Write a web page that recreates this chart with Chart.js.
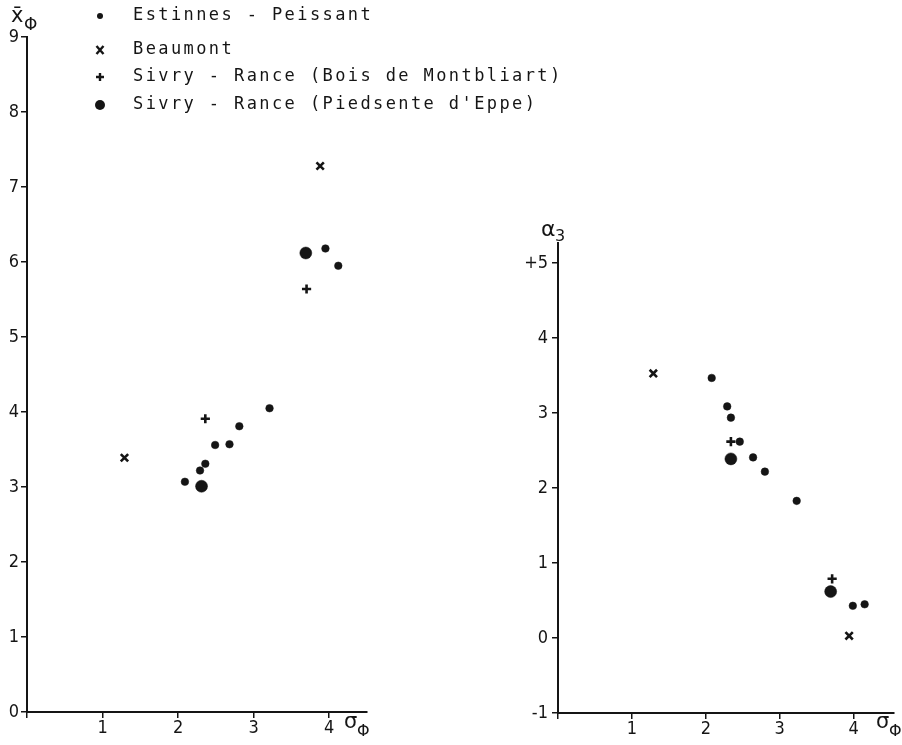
<!DOCTYPE html>
<html>
<head>
<meta charset="utf-8">
<script src="https://cdn.jsdelivr.net/npm/chart.js@4/dist/chart.umd.min.js"></script>
<style>
  html, body { margin: 0; padding: 0; background: #fff; }
  #wrap { position: relative; width: 902px; height: 745px; overflow: hidden; background: #fff; }
  canvas { position: absolute; top: 0; }
  #c1 { left: 0; }
  #c2 { left: 500px; }
</style>
</head>
<body>
<div id="wrap">
  <canvas id="c1" width="902" height="745"></canvas>
  <canvas id="c2" width="402" height="745"></canvas>
</div>
<script>
// ---- Data ----
const seriesNames = [
  "Estinnes - Peissant",
  "Beaumont",
  "Sivry - Rance (Bois de Montbliart)",
  "Sivry - Rance (Piedsente d'Eppe)"
];

// Left panel: mean (x̄Φ) vs standard deviation (σΦ)
const estSigmaL = [2.09, 2.29, 2.36, 2.49, 2.68, 2.81, 3.21, 3.95, 4.12];
const estMean   = [3.07, 3.22, 3.31, 3.56, 3.57, 3.81, 4.05, 6.18, 5.95];
const beaSigmaL = [1.29, 3.88];
const beaMean   = [3.39, 7.28];
const boisSigmaL = [2.36, 3.70];
const boisMean   = [3.91, 5.64];
const piedSigmaL = [2.31, 3.69];
const piedMean   = [3.01, 6.12];

// Right panel: skewness (α3) vs standard deviation (σΦ)
const estSigmaR = [2.08, 2.29, 2.34, 2.46, 2.64, 2.80, 3.23, 3.99, 4.15];
const estSkew   = [3.47, 3.09, 2.94, 2.62, 2.41, 2.22, 1.83, 0.43, 0.45];
const beaSigmaR = [1.29, 3.94];
const beaSkew   = [3.53, 0.03];
const boisSigmaR = [2.34, 3.71];
const boisSkew   = [2.62, 0.79];
const piedSigmaR = [2.34, 3.69];
const piedSkew   = [2.39, 0.62];

// Tick labels
const xTickLabels = ["", "1", "2", "3", "4"];
const yTickLabelsL = ["0", "1", "2", "3", "4", "5", "6", "7", "8", "9"];
const yTickLabelsR = ["-1", "0", "1", "2", "3", "4", "+5"];

// ---- Helpers ----
const INK = '#151515';
const tickFont = { family: "'DejaVu Sans Condensed', 'DejaVu Sans', sans-serif", size: 18 };

function pts(xs, ys) { return xs.map((x, i) => ({ x: x, y: ys[i] })); }

function makeDatasets(eX, eY, bX, bY, oX, oY, pX, pY) {
  return [
    { label: seriesNames[0], data: pts(eX, eY), pointStyle: 'circle', pointRadius: 3.8,
      backgroundColor: INK, borderColor: INK, borderWidth: 0.5 },
    { label: seriesNames[1], data: pts(bX, bY), pointStyle: 'crossRot', pointRadius: 5.2,
      backgroundColor: INK, borderColor: INK, borderWidth: 2.6 },
    { label: seriesNames[2], data: pts(oX, oY), pointStyle: 'cross', pointRadius: 4.6,
      backgroundColor: INK, borderColor: INK, borderWidth: 2.6 },
    { label: seriesNames[3], data: pts(pX, pY), pointStyle: 'circle', pointRadius: 6,
      backgroundColor: INK, borderColor: INK, borderWidth: 0.5 }
  ];
}

function axisCommon() {
  return {
    type: 'linear',
    grid: { display: true, drawOnChartArea: false, drawTicks: true, tickLength: 6, color: INK, lineWidth: 1.5 },
    border: { display: true, color: INK, width: 2 },
  };
}

function buildOptions(cfg) {
  const x = Object.assign(axisCommon(), {
    min: 0, max: cfg.xMax,
    ticks: { stepSize: 1, includeBounds: false, color: INK, font: tickFont, padding: 0,
             maxRotation: 0, autoSkip: false,
             callback: (v) => { const i = Math.round(v); return xTickLabels[i] !== undefined ? xTickLabels[i] : ''; } },
    afterFit: (s) => { s.height = cfg.xAxisH; }
  });
  const y = Object.assign(axisCommon(), {
    min: cfg.yMin, max: cfg.yMax,
    ticks: { stepSize: 1, includeBounds: false, color: INK, font: tickFont, padding: cfg.yPad,
             autoSkip: false,
             callback: (v) => { const i = Math.round(v - cfg.yMin); return cfg.yLabels[i] !== undefined ? cfg.yLabels[i] : ''; } },
    afterFit: (s) => { s.width = cfg.yAxisW; }
  });
  return {
    responsive: false,
    animation: false,
    devicePixelRatio: 1,
    layout: { padding: { top: cfg.padTop, right: cfg.padRight, bottom: 0, left: 0 } },
    plugins: { legend: { display: false }, tooltip: { enabled: false }, title: { display: false } },
    scales: { x: x, y: y }
  };
}

// Draw axis titles and legend
const leftDecor = {
  id: 'leftDecor',
  afterDraw(chart) {
    const ctx = chart.ctx;
    ctx.save();
    ctx.fillStyle = INK;
    ctx.strokeStyle = INK;
    // y title  x̄Φ
    ctx.font = "21px 'DejaVu Sans', sans-serif";
    ctx.textBaseline = 'alphabetic';
    ctx.textAlign = 'left';
    ctx.fillText('x\u0304', 11, 22);
    ctx.font = "17px 'DejaVu Sans', sans-serif";
    ctx.fillText('\u03A6', 24, 30);
    // x title σΦ
    ctx.font = "21px 'DejaVu Sans', sans-serif";
    ctx.fillText('\u03C3', 344, 728);
    ctx.font = "16px 'DejaVu Sans', sans-serif";
    ctx.fillText('\u03A6', 357, 736);

    // Legend
    const rows = [16, 50, 77, 105];
    const mx = 100, tx = 133;
    ctx.font = "17px 'DejaVu Sans Mono', monospace";
    try { ctx.letterSpacing = '2.4px'; } catch (e) {}
    ctx.textBaseline = 'middle';
    seriesNames.forEach((name, i) => {
      ctx.fillText(name, tx, rows[i]);
    });
    try { ctx.letterSpacing = '0px'; } catch (e) {}
    // markers
    ctx.beginPath(); ctx.arc(mx, rows[0], 3, 0, Math.PI * 2); ctx.fill();
    ctx.lineWidth = 2.4;
    ctx.beginPath();
    ctx.moveTo(mx - 3.5, rows[1] - 4); ctx.lineTo(mx + 3.5, rows[1] + 4);
    ctx.moveTo(mx + 3.5, rows[1] - 4); ctx.lineTo(mx - 3.5, rows[1] + 4);
    ctx.stroke();
    ctx.beginPath();
    ctx.moveTo(mx - 4, rows[2]); ctx.lineTo(mx + 4, rows[2]);
    ctx.moveTo(mx, rows[2] - 4); ctx.lineTo(mx, rows[2] + 4);
    ctx.stroke();
    ctx.beginPath(); ctx.arc(mx, rows[3], 5, 0, Math.PI * 2); ctx.fill();
    ctx.restore();
  }
};

const rightDecor = {
  id: 'rightDecor',
  afterDraw(chart) {
    const ctx = chart.ctx;
    ctx.save();
    ctx.fillStyle = INK;
    ctx.textBaseline = 'alphabetic';
    ctx.textAlign = 'left';
    // y title α3
    ctx.font = "22px 'DejaVu Sans', sans-serif";
    ctx.fillText('\u03B1', 41, 236);
    ctx.font = "16px 'DejaVu Sans', sans-serif";
    ctx.fillText('3', 55, 241);
    // x title σΦ
    ctx.font = "21px 'DejaVu Sans', sans-serif";
    ctx.fillText('\u03C3', 376, 728);
    ctx.font = "16px 'DejaVu Sans', sans-serif";
    ctx.fillText('\u03A6', 389, 736);
    ctx.restore();
  }
};

new Chart(document.getElementById('c1'), {
  type: 'scatter',
  data: { datasets: makeDatasets(estSigmaL, estMean, beaSigmaL, beaMean, boisSigmaL, boisMean, piedSigmaL, piedMean) },
  options: buildOptions({ xMax: 4.5, yMin: 0, yMax: 9, yLabels: yTickLabelsL,
                          xAxisH: 33, yAxisW: 27, padTop: 37, padRight: 535, yPad: 2 }),
  plugins: [leftDecor]
});

new Chart(document.getElementById('c2'), {
  type: 'scatter',
  data: { datasets: makeDatasets(estSigmaR, estSkew, beaSigmaR, beaSkew, boisSigmaR, boisSkew, piedSigmaR, piedSkew) },
  options: buildOptions({ xMax: 4.55, yMin: -1, yMax: 5.27, yLabels: yTickLabelsR,
                          xAxisH: 32, yAxisW: 58, padTop: 243, padRight: 0, yPad: 4 }),
  plugins: [rightDecor]
});
</script>
</body>
</html>
